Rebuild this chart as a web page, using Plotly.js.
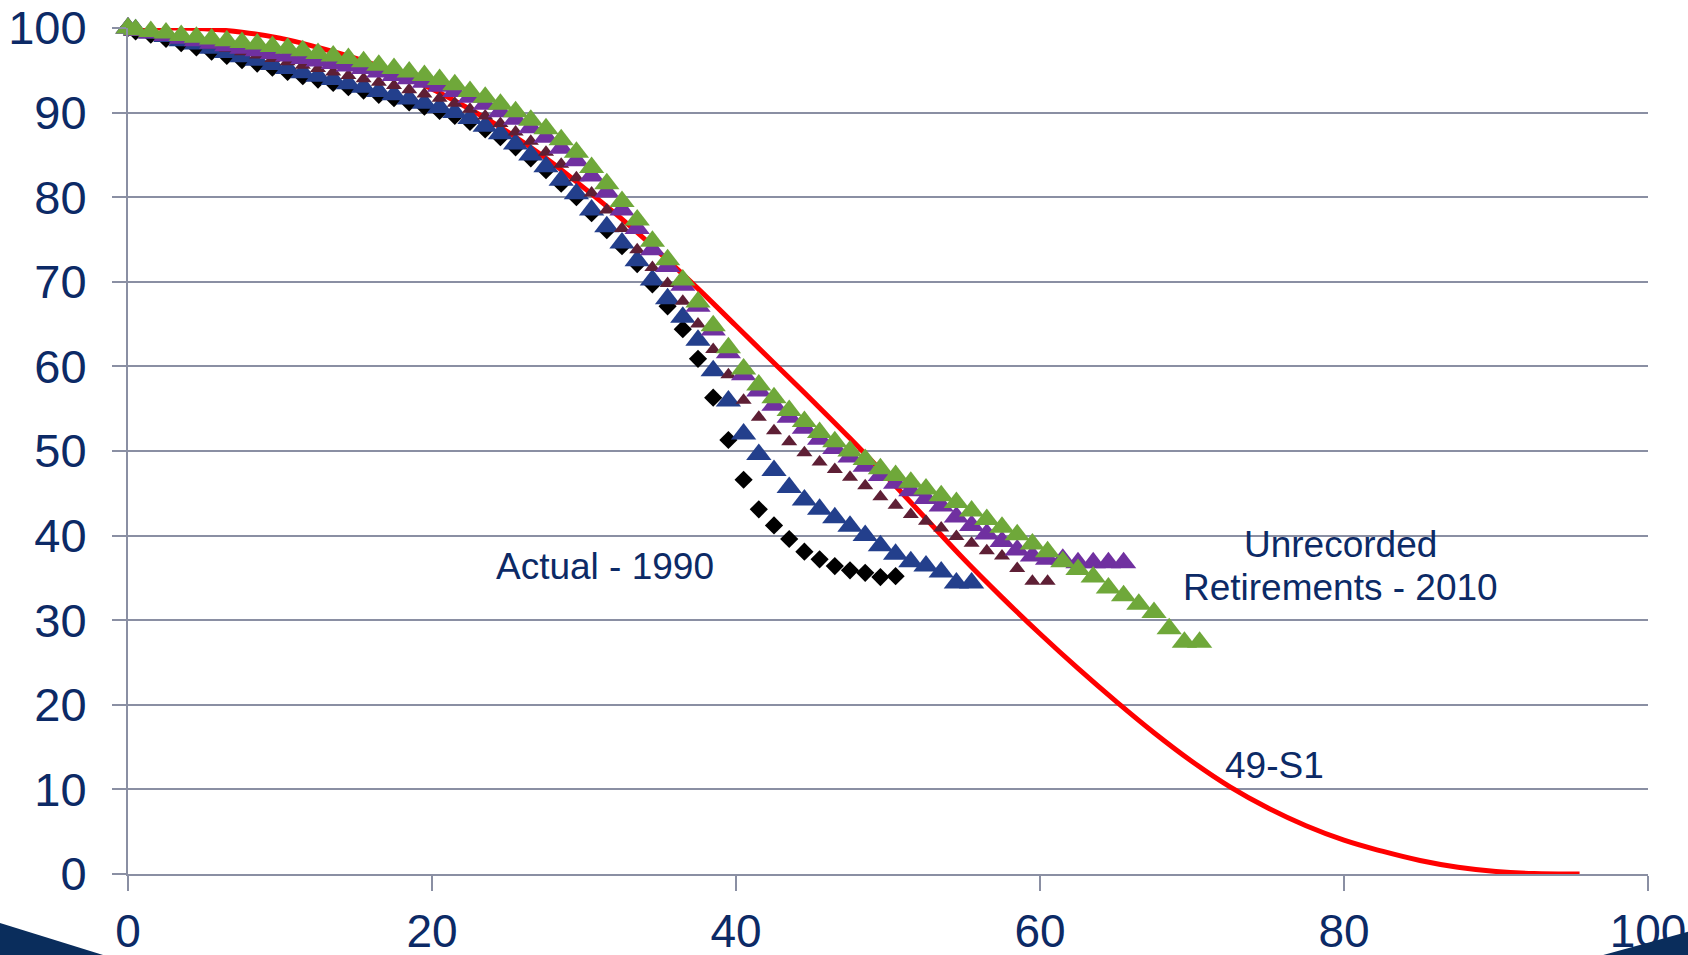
<!DOCTYPE html>
<html>
<head>
<meta charset="utf-8">
<script src="https://cdn.plot.ly/plotly-3.0.1.min.js"></script>
<style>
  html, body { margin: 0; padding: 0; background: #ffffff; }
  #chart { width: 1688px; height: 955px; }
</style>
</head>
<body>
<div id="chart"></div>
<script>
// Ages (years) shared by all observed series
const ages = [0,0.5,1.5,2.5,3.5,4.5,5.5,6.5,7.5,8.5,9.5,10.5,11.5,12.5,13.5,14.5,15.5,16.5,17.5,18.5,19.5,20.5,21.5,22.5,23.5,24.5,25.5,26.5,27.5,28.5,29.5,30.5,31.5,32.5,33.5,34.5,35.5,36.5,37.5,38.5,39.5,40.5,41.5,42.5,43.5,44.5,45.5,46.5,47.5,48.5,49.5,50.5,51.5,52.5,53.5,54.5,55.5,56.5,57.5,58.5,59.5,60.5,61.5,62.5,63.5,64.5,65.5,66.5,67.5,68.5,69.5,70.5];

// Actual - 1990 (black diamonds)
const actual1990 = [100,99.6,99.2,98.7,98.2,97.7,97.2,96.7,96.2,95.8,
  95.3,94.8,94.3,93.9,93.5,93.0,92.6,92.1,91.7,91.2,
  90.7,90.2,89.6,88.9,88.0,87.1,85.9,84.6,83.2,81.6,
  80.0,78.1,76.1,74.2,72.1,69.7,67.1,64.4,60.9,56.3,
  51.3,46.6,43.1,41.2,39.6,38.1,37.2,36.4,35.9,35.6,
  35.1,35.2];

// dark blue triangles
const series1995 = [100,99.8,99.4,99.0,98.5,98.1,97.6,97.1,96.6,96.2,
  95.7,95.2,94.7,94.3,93.9,93.4,93.0,92.5,92.1,91.6,
  91.1,90.6,90.0,89.3,88.4,87.5,86.3,85.0,83.6,82.0,
  80.4,78.5,76.5,74.6,72.5,70.2,68.0,65.8,63.1,59.5,
  55.9,52.0,49.6,47.7,45.7,44.2,43.1,42.1,41.1,40.0,
  38.8,37.8,36.9,36.4,35.7,34.4,34.4];

// maroon small triangles
const series2000 = [100,99.8,99.5,99.1,98.8,98.4,98.0,97.6,97.2,96.8,
  96.4,96.0,95.6,95.2,94.8,94.4,94.0,93.6,93.2,92.7,
  92.2,91.7,91.1,90.4,89.6,88.7,87.7,86.6,85.3,83.9,
  82.3,80.5,78.5,76.3,73.8,71.7,69.8,67.7,65.0,62.0,
  59.0,56.0,54.0,52.4,51.1,49.8,48.7,47.8,46.9,45.9,
  44.6,43.6,42.5,41.7,40.9,39.9,39.1,38.2,37.6,36.1,
  34.6,34.6];

// purple triangles
const series2005 = [100,99.7,99.4,99.1,98.8,98.5,98.2,97.9,97.6,97.3,
  97.0,96.7,96.4,96.1,95.8,95.5,95.2,94.8,94.4,94.0,
  93.6,93.1,92.5,91.8,91.0,90.1,89.2,88.2,87.1,85.8,
  84.3,82.5,80.6,78.5,76.3,73.8,71.8,69.6,67.1,64.3,
  61.6,59.0,57.1,55.4,54.0,52.7,51.4,50.3,49.3,48.2,
  47.1,46.2,45.3,44.4,43.5,42.2,41.2,40.2,39.3,38.3,
  37.6,37.2,37.2,36.8,36.8,36.8,36.8];

// Unrecorded Retirements - 2010 (green triangles)
const unrecorded2010 = [100,99.8,99.6,99.4,99.1,98.9,98.7,98.5,98.3,98.1,
  97.8,97.6,97.3,97.0,96.7,96.4,96.0,95.6,95.2,94.8,
  94.4,93.9,93.3,92.5,91.8,91.0,90.1,89.1,88.1,86.8,
  85.3,83.5,81.6,79.5,77.3,74.8,72.6,70.2,67.6,64.8,
  62.2,59.7,57.8,56.3,54.8,53.5,52.2,51.1,50.0,49.0,
  47.9,47.1,46.3,45.5,44.7,43.9,42.9,41.9,41.0,40.1,
  39.0,38.1,36.9,36.0,35.1,33.8,32.9,31.9,30.9,29.0,
  27.4,27.4];

// 49-S1 survivor curve (red line)
const curveAges = [0,2.5,5,7.5,10,12.5,15,17.5,20,22.5,25,27.5,30,32.5,35,37.5,40,42.5,45,47.5,50,52.5,55,57.5,60,62.5,65,67.5,70,72.5,75,77.5,80,82.5,85,87.5,90,92.5,95.5];
const curve49S1 = [100,100,99.9,99.5,98.8,97.7,96.4,94.8,92.8,90.4,87.7,84.6,81.1,77.4,73.4,69.2,64.8,60.4,56.0,51.5,46.8,42.0,37.2,32.7,28.4,24.3,20.4,16.7,13.3,10.3,7.8,5.7,4.0,2.7,1.6,0.8,0.3,0.05,0];

const xTicks = [0,20,40,60,80,100];
const yTicks = [0,10,20,30,40,50,60,70,80,90,100];

const navy = '#0c2a66';
const grid = '#8a8fa3';
const font = 'Liberation Sans, Arial, sans-serif';

function agesFor(vals) { return ages.slice(0, vals.length); }

const traces = [
  { x: curveAges, y: curve49S1, mode: 'lines', name: '49-S1',
    line: { color: '#ff0000', width: 5, shape: 'spline', smoothing: 1.2 }, cliponaxis: false },
  { x: agesFor(actual1990), y: actual1990, mode: 'markers', name: 'Actual - 1990',
    marker: { symbol: 'diamond', size: 14, color: '#000000' }, cliponaxis: false },
  { x: agesFor(series1995), y: series1995, mode: 'markers', name: '1995',
    marker: { symbol: 'triangle-up', size: 22, color: '#233f8c' }, cliponaxis: false },
  { x: agesFor(series2000), y: series2000, mode: 'markers', name: '2000',
    marker: { symbol: 'triangle-up', size: 14, color: '#5e1f35' }, cliponaxis: false },
  { x: agesFor(series2005), y: series2005, mode: 'markers', name: '2005',
    marker: { symbol: 'triangle-up', size: 22, color: '#7030a0' }, cliponaxis: false },
  { x: agesFor(unrecorded2010), y: unrecorded2010, mode: 'markers', name: 'Unrecorded Retirements - 2010',
    marker: { symbol: 'triangle-up', size: 22, color: '#6fa83a' }, cliponaxis: false }
];

const layout = {
  width: 1688, height: 955,
  margin: { l: 128, r: 40, t: 28, b: 81, pad: 0 },
  paper_bgcolor: '#ffffff', plot_bgcolor: '#ffffff',
  showlegend: false,
  font: { family: font, color: navy, size: 46 },
  xaxis: {
    range: [0, 100], tickvals: xTicks, ticktext: xTicks.map(String),
    showgrid: false, zeroline: false,
    showline: true, linecolor: grid, linewidth: 2,
    ticks: 'outside', ticklen: 15, tickwidth: 2, tickcolor: grid,
    tickfont: { family: font, size: 46, color: navy },
    ticklabelstandoff: 1, fixedrange: true
  },
  yaxis: {
    range: [0, 100], tickvals: yTicks, ticktext: yTicks.map(String),
    showgrid: true, gridcolor: grid, gridwidth: 2, zeroline: false,
    showline: true, linecolor: grid, linewidth: 2,
    ticks: 'outside', ticklen: 14, tickwidth: 2, tickcolor: grid,
    tickfont: { family: font, size: 47, color: navy },
    ticklabelstandoff: 16, fixedrange: true
  },
  annotations: [
    { x: 31.4, y: 36.4, xref: 'x', yref: 'y', text: 'Actual - 1990', showarrow: false,
      xanchor: 'center', yanchor: 'middle', font: { family: font, size: 37, color: navy } },
    { x: 79.75, y: 38.96, xref: 'x', yref: 'y', text: 'Unrecorded', showarrow: false,
      xanchor: 'center', yanchor: 'middle', font: { family: font, size: 37, color: navy } },
    { x: 79.75, y: 33.87, xref: 'x', yref: 'y', text: 'Retirements - 2010', showarrow: false,
      xanchor: 'center', yanchor: 'middle', font: { family: font, size: 37, color: navy } },
    { x: 75.45, y: 12.87, xref: 'x', yref: 'y', text: '49-S1', showarrow: false,
      xanchor: 'center', yanchor: 'middle', font: { family: font, size: 37, color: navy } }
  ],
  shapes: [
    { type: 'path', xref: 'paper', yref: 'paper', layer: 'above',
      path: 'M -0.0842,-0.0579 L -0.0164,-0.0957 L -0.0842,-0.0957 Z',
      fillcolor: '#0a2d5c', line: { width: 0 } },
    { type: 'path', xref: 'paper', yref: 'paper', layer: 'above',
      path: 'M 0.9706,-0.0957 L 1.0263,-0.0684 L 1.0263,-0.0957 Z',
      fillcolor: '#0a2d5c', line: { width: 0 } }
  ]
};

Plotly.newPlot('chart', traces, layout, { staticPlot: true, displayModeBar: false });
</script>
</body>
</html>
